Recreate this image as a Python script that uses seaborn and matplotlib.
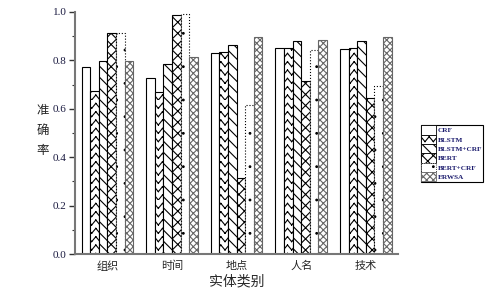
import warnings
import numpy as np
import pandas as pd
import seaborn as sns
import matplotlib
matplotlib.use('Agg')
import matplotlib.pyplot as plt
import matplotlib.hatch as mhatch
from matplotlib.path import Path
from matplotlib.patches import Patch
from matplotlib.ticker import MultipleLocator, FormatStrFormatter

warnings.filterwarnings('ignore')

# Data
categories = ['组织', '时间', '地点', '人名', '技术']
models = ['CRF', 'BLSTM', 'BLSTM+CRF', 'BERT', 'BERT+CRF', 'ERWSA']
crf = [0.772, 0.727, 0.832, 0.851, 0.847]
blstm = [0.673, 0.670, 0.834, 0.851, 0.851]
blstm_crf = [0.799, 0.783, 0.865, 0.881, 0.879]
bert = [0.912, 0.989, 0.316, 0.716, 0.646]
bert_crf = [0.912, 0.992, 0.615, 0.843, 0.694]
erwsa = [0.799, 0.815, 0.898, 0.884, 0.898]


# Chevron hatch ('v') for the BLSTM bars, drawn as separate strokes
class ChevronHatch(mhatch.HatchPatternBase):
    def __init__(self, hatch, density):
        self.num_rows = hatch.count('v') * density
        self.num_vertices = self.num_rows * self.num_rows * 4

    def set_vertices_and_codes(self, vertices, codes):
        n = self.num_rows
        k = 0
        for i in range(n):
            for j in range(n):
                x0, y0 = j / n, i / n
                apex = (x0 + 0.5 / n, y0 + 0.6 / n)
                vertices[k] = (x0, y0)
                vertices[k + 1] = apex
                vertices[k + 2] = apex
                vertices[k + 3] = (x0 + 1.0 / n, y0)
                codes[k:k + 4] = [Path.MOVETO, Path.LINETO, Path.MOVETO, Path.LINETO]
                k += 4


# Tiny dots (',') for the BERT+CRF bars
class TinyDots(mhatch.Circles):
    size = 0.05
    filled = True

    def __init__(self, hatch, density):
        self.num_rows = hatch.count(',') * density
        super().__init__(hatch, density)


mhatch._hatch_types.extend([ChevronHatch, TinyDots])

sns.set_style('ticks')
plt.rcParams['font.family'] = ['Noto Sans CJK SC', 'DejaVu Sans']
plt.rcParams['hatch.linewidth'] = 0.8

# Long-format table for seaborn
values = [crf, blstm, blstm_crf, bert, bert_crf, erwsa]
rows = []
for m, vals in zip(models, values):
    for c, v in zip(categories, vals):
        rows.append({'category': c, 'model': m, 'acc': v})
df = pd.DataFrame(rows)

# hatch, edge colour, line style per model
styles = [
    ('', 'black', '-'),
    ('vv', 'black', '-'),
    ('\\\\\\', 'black', '-'),
    ('xxx', 'black', '-'),
    (',', 'black', ':'),
    ('xxxxx', '#666666', '-'),
]

fig, ax = plt.subplots(figsize=(4.97, 2.91), dpi=100)
fig.subplots_adjust(left=0.151, right=0.801, bottom=0.127, top=0.959)

sns.barplot(data=df, x='category', y='acc', hue='model', order=categories,
            hue_order=models, palette=['white'] * 6, width=0.8, gap=0,
            edgecolor='black', linewidth=0.8, legend=False, ax=ax)

for cont, (h, ec, ls) in zip(ax.containers, styles):
    for bar in cont:
        bar.set_hatch(h)
        bar.set_edgecolor(ec)
        bar.set_linestyle(ls)

ax.set_xlim(-0.5, 4.5)
ax.set_ylim(0, 1.0)
ax.yaxis.set_major_locator(MultipleLocator(0.2))
ax.yaxis.set_minor_locator(MultipleLocator(0.1))
ax.yaxis.set_major_formatter(FormatStrFormatter('%.1f'))
ax.tick_params(axis='y', which='major', length=4, width=1, color='#333333',
               labelsize=8, labelcolor='#1a1a40', pad=2)
ax.tick_params(axis='y', which='minor', length=2, width=0.8, color='#333333')
ax.tick_params(axis='x', length=0, labelsize=8, pad=5)
for label in ax.get_yticklabels():
    label.set_fontfamily('Liberation Serif')

sns.despine(ax=ax)
for side in ['left', 'bottom']:
    ax.spines[side].set_color('#777777')
    ax.spines[side].set_linewidth(1.5)

ax.set_xlabel('实体类别', fontsize=10, labelpad=2)
ax.set_ylabel('准\n确\n率', fontsize=9, rotation=0, ha='center', va='center',
              linespacing=1.7)
ax.yaxis.set_label_coords(-0.10, 0.51)

handles = [Patch(facecolor='white', edgecolor=ec, hatch=h, linestyle=ls,
                 linewidth=0.6, label=m)
           for m, (h, ec, ls) in zip(models, styles)]
leg = fig.legend(handles=handles, loc='upper left', bbox_to_anchor=(0.847, 0.570),
                 prop={'family': 'Liberation Serif', 'weight': 'bold', 'size': 5.2},
                 handlelength=2.0, handleheight=1.6, labelspacing=0.0,
                 handletextpad=0.3, borderpad=0.05, borderaxespad=0,
                 fancybox=False, edgecolor='black', framealpha=1)
leg.get_frame().set_linewidth(0.8)
for t in leg.get_texts():
    t.set_color('#1c1c6e')

plt.savefig('out.png', dpi=100)
